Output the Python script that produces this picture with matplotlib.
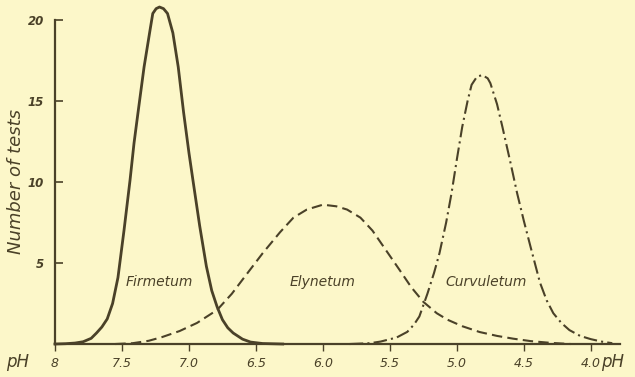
import matplotlib
matplotlib.use("Agg")
import matplotlib.pyplot as plt

# Firmetum (solid)
firm_ph = [8.0, 7.92, 7.85, 7.79, 7.73, 7.69, 7.65, 7.61, 7.57, 7.53, 7.485, 7.44, 7.41,
           7.38, 7.335, 7.29, 7.27, 7.245, 7.22, 7.19, 7.16, 7.12, 7.08, 7.04, 7.00, 6.97,
           6.92, 6.87, 6.83, 6.79, 6.75, 6.71, 6.67, 6.60, 6.54, 6.45, 6.30]
firm_n = [0.0, 0.02, 0.06, 0.14, 0.35, 0.68, 1.05, 1.55, 2.5, 4.1, 7.0, 10.1, 12.4,
          14.3, 17.1, 19.4, 20.4, 20.7, 20.8, 20.7, 20.4, 19.2, 17.1, 14.3, 11.8, 10.1,
          7.3, 4.8, 3.3, 2.3, 1.5, 1.0, 0.68, 0.3, 0.12, 0.03, 0.0]

# Elynetum (dashed)
ely_ph = [7.55, 7.42, 7.30, 7.20, 7.07, 6.94, 6.79, 6.68, 6.57, 6.45, 6.32, 6.22, 6.12,
          6.0, 5.90, 5.82, 5.72, 5.63, 5.53, 5.43, 5.34, 5.25, 5.15, 5.07, 4.96, 4.83,
          4.70, 4.58, 4.45, 4.30, 4.15]
ely_n = [0.0, 0.05, 0.2, 0.43, 0.8, 1.3, 2.1, 3.1, 4.3, 5.6, 6.9, 7.8, 8.3,
         8.6, 8.5, 8.3, 7.8, 7.0, 5.8, 4.6, 3.5, 2.6, 1.9, 1.5, 1.1, 0.74,
         0.5, 0.33, 0.18, 0.07, 0.0]

# Curvuletum (dash-dot)
curv_ph = [5.80, 5.65, 5.57, 5.45, 5.37, 5.32, 5.28, 5.22, 5.17, 5.13, 5.08, 5.04, 5.0,
           4.96, 4.92, 4.89, 4.85, 4.81, 4.77, 4.75, 4.70, 4.66, 4.60, 4.55, 4.50, 4.45,
           4.38, 4.33, 4.28, 4.22, 4.16, 4.08, 4.0, 3.92, 3.84]
curv_n = [0.0, 0.05, 0.15, 0.4, 0.75, 1.2, 1.7, 3.1, 4.4, 5.6, 7.5, 9.3, 11.4,
          13.4, 15.0, 16.0, 16.5, 16.6, 16.4, 16.1, 14.8, 13.4, 11.2, 9.3, 7.6, 6.0,
          3.8, 2.7, 1.9, 1.3, 0.86, 0.5, 0.3, 0.15, 0.05]

x_ticks = [8, 7.5, 7.0, 6.5, 6.0, 5.5, 5.0, 4.5, 4.0]
x_labels = ["8", "7.5", "7.0", "6.5", "6.0", "5.5", "5.0", "4.5", "4.0"]
y_ticks = [5, 10, 15, 20]

bg = "#fcf7c9"
ink = "#4a4128"

fig = plt.figure(figsize=(6.35, 3.77), dpi=100, facecolor=bg)
ax = fig.add_axes([0.0866, 0.0875, 0.8894, 0.8595], facecolor=bg)

ax.plot(firm_ph, firm_n, color=ink, lw=2.0, clip_on=False, solid_joinstyle="round")
ax.plot(ely_ph, ely_n, color=ink, lw=1.5, dashes=(5, 2.5), clip_on=False)
ax.plot(curv_ph, curv_n, color=ink, lw=1.5, dashes=(6.5, 2, 1, 2), clip_on=False)

ax.set_xlim(8, 3.784)
ax.set_ylim(0, 20)
for s in ["top", "right"]:
    ax.spines[s].set_visible(False)
for s in ["left", "bottom"]:
    ax.spines[s].set_color(ink)
    ax.spines[s].set_linewidth(1.6)

ax.set_xticks(x_ticks)
ax.set_xticklabels(x_labels, fontsize=9, style="italic", color=ink)
ax.set_yticks(y_ticks)
ax.set_yticklabels([str(v) for v in y_ticks], fontsize=8.5, style="italic",
                   fontweight="bold", color=ink)
ax.tick_params(axis="x", direction="out", length=5, width=1.0, color=ink, pad=4)
ax.tick_params(axis="y", direction="in", length=6, width=1.2, color=ink, pad=8)

ax.set_ylabel("Number of tests", fontsize=13, style="italic", color=ink, labelpad=2)

lbl = dict(fontsize=10, style="italic", color=ink, ha="center", va="center")
ax.text(7.22, 3.8, "Firmetum", **lbl)
ax.text(6.0, 3.8, "Elynetum", **lbl)
ax.text(4.78, 3.8, "Curvuletum", **lbl)

fig.text(0.028, 0.04, "pH", fontsize=12, style="italic", color=ink, ha="center", va="center")
fig.text(0.965, 0.04, "pH", fontsize=12, style="italic", color=ink, ha="center", va="center")

fig.savefig("out.png", dpi=100, facecolor=bg)
